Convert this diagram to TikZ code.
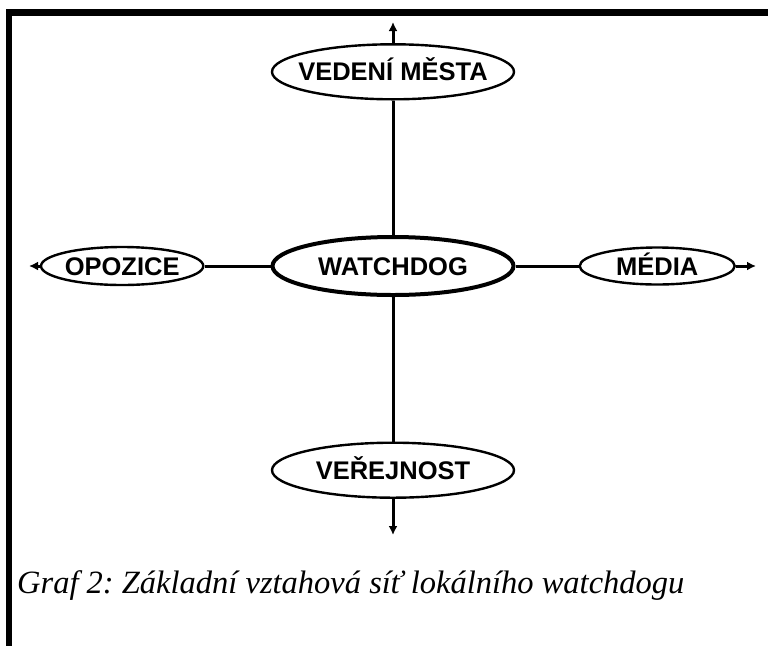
\documentclass[tikz,border=0pt]{standalone}
\usepackage{fontspec}
\setmainfont{Liberation Serif}
\setsansfont{Liberation Sans}
\usepackage{tikz}
\usetikzlibrary{arrows.meta,positioning,shapes.geometric}
\frenchspacing
\tikzset{
  actor/.style={draw, ellipse, line width=2.4pt, inner sep=0pt, align=center, text height=18pt, text depth=0pt, font=\sffamily\bfseries\fontsize{25.5}{27}\selectfont},
  actorbig/.style={actor, line width=4pt},
  link/.style={line width=3pt},
  outlink/.style={link, -{Latex[length=9pt,width=9pt]}},
  frameline/.style={line width=6.5pt}
}
\begin{document}
\begin{tikzpicture}[x=1pt, y=-1pt]
    \useasboundingbox (0,0) rectangle (768,646);
    % frame
    \draw[frameline] (9,12.5) -- (768,12.5);
    \draw[frameline] (9,9.25) -- (9,646);
    % nodes
    \node[actorbig, minimum width=241pt, minimum height=58pt] (watch) at (393,266) {WATCHDOG};
    \node[actor, inner xsep=-10pt, minimum width=242pt, minimum height=55pt, above=134.5pt of watch] (vedeni) {VEDENÍ MĚSTA};
    \node[actor, minimum width=242pt, minimum height=55pt, below=144.5pt of watch] (verejnost) {VEŘEJNOST};
    \node[actor, minimum width=161pt, minimum height=38pt, left=66pt of watch] (opozice) {OPOZICE};
    \node[actor, minimum width=155pt, minimum height=37pt, right=63pt of watch] (media) {MÉDIA};
    \coordinate (up) at (393,22);
    \coordinate (down) at (393,535);
    \coordinate (west) at (29,266);
    \coordinate (east) at (756,266);
    % connectors
    \draw[link] (vedeni) -- (watch);
    \draw[link] (watch) -- (verejnost);
    \draw[link] (opozice) -- (watch);
    \draw[link] (watch) -- (media);
    \draw[outlink] (vedeni) -- (up);
    \draw[outlink] (verejnost) -- (down);
    \draw[outlink] (opozice) -- (west);
    \draw[outlink] (media) -- (east);
    % caption
    \node[anchor=base west, inner sep=0pt, font=\itshape\fontsize{32.5}{36}\selectfont] (caption) at (17,593) {Graf 2: Základní vztahová síť lokálního watchdogu};
\end{tikzpicture}
\end{document}
